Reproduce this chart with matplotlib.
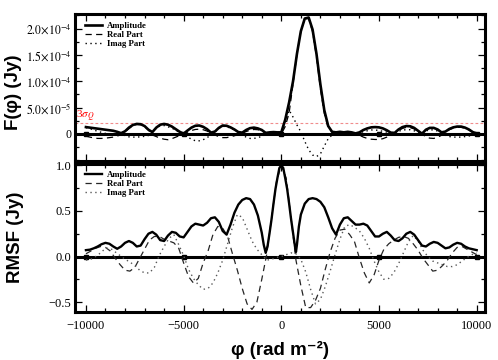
import numpy as np
import matplotlib
matplotlib.use('Agg')
import matplotlib.pyplot as plt
from matplotlib.ticker import FixedLocator, FixedFormatter, MultipleLocator

plt.rcParams['font.family'] = ['Liberation Serif', 'DejaVu Serif']
plt.rcParams['mathtext.fontset'] = 'stix'

# ---- Faraday spectrum (top), units of 1e-5 Jy, phi step 200 ----
phi_top = np.arange(-10000, 10001, 200)
amp_top = [1.3, 1.2, 1.1, 1.0, 0.9, 0.8, 0.7, 0.6, 0.4, 0.15,
           0.5, 1.2, 1.7, 1.9, 1.85, 1.5, 0.8, 0.35, 1.2, 1.75,
           1.9, 1.75, 1.4, 0.9, 0.4, 0.05, 0.65, 1.2, 1.55, 1.6,
           1.35, 0.9, 0.25, 0.45, 1.15, 1.6, 1.55, 1.25, 0.85, 0.35,
           0.25, 0.75, 1.1, 1.2, 1.05, 0.75, 0.2, 0.3, 0.35, 0.3,
           0.3,
           2.7, 6.0, 10.0, 15.2, 19.5, 21.9, 22.1, 19.8, 15.2, 9.4,
           4.5, 1.5, 0.4, 0.3, 0.4, 0.3, 0.4, 0.3, 0.1, 0.3,
           0.75, 1.05, 1.25, 1.3, 1.25, 1.05, 0.7, 0.25, 0.2, 0.85,
           1.3, 1.5, 1.45, 1.15, 0.6, 0.05, 0.8, 1.15, 1.15, 0.85,
           0.3, 0.45, 0.95, 1.25, 1.4, 1.4, 1.2, 0.85, 0.35, 0.1]
real_top = [-0.4, -0.6, -0.75, -0.85, -0.85, -0.8, -0.7, -0.6, -0.4, -0.15,
            0.4, 1.0, 1.55, 1.8, 1.75, 1.4, 0.75, -0.2, -0.5, -0.8,
            -1.0, -1.1, -0.9, -0.6, -0.3, 0.0, 0.35, 0.65, 0.85, 0.9,
            0.8, 0.55, 0.15, -0.2, -0.5, -0.7, -0.7, -0.55, -0.35, -0.1,
            0.15, 0.45, 0.7, 0.85, 0.8, 0.6, 0.15, 0.2, 0.25, 0.1,
            0.0,
            1.4, 4.0, 9.5, 15.1, 19.5, 21.85, 21.9, 19.4, 14.6, 8.6,
            3.9, 1.2, 0.35, 0.2, 0.3, 0.25, 0.3, 0.1, -0.05, -0.25,
            -0.6, -0.85, -1.0, -1.05, -1.05, -0.9, -0.6, -0.2, 0.15, 0.65,
            1.05, 1.25, 1.2, 0.95, 0.5, 0.0, -0.55, -0.8, -0.85, -0.65,
            -0.25, 0.35, 0.8, 1.1, 1.25, 1.25, 1.1, 0.75, 0.3, 0.1]
imag_top = [1.2, 1.0, 0.75, 0.5, 0.3, 0.1, -0.05, -0.1, -0.1, -0.05,
            -0.3, -0.55, -0.6, -0.6, -0.55, -0.45, -0.3, 0.3, 1.1, 1.55,
            1.6, 1.35, 1.1, 0.7, 0.25, 0.05, -0.55, -1.0, -1.3, -1.3,
            -1.1, -0.7, -0.2, 0.4, 1.05, 1.45, 1.4, 1.1, 0.75, 0.35,
            -0.2, -0.6, -0.85, -0.85, -0.7, -0.45, -0.1, 0.2, 0.25, 0.3,
            0.3,
            2.3, 4.5, 3.2, 1.7, 0.4, -1.4, -3.0, -4.0, -4.3, -3.8,
            -2.3, -0.9, -0.2, 0.2, 0.25, -0.15, 0.25, 0.3, 0.1, 0.15,
            0.45, 0.6, 0.75, 0.75, 0.65, 0.5, 0.35, 0.15, 0.1, 0.5,
            0.75, 0.8, 0.8, 0.6, 0.3, 0.0, 0.55, 0.8, 0.75, 0.55,
            0.15, -0.25, -0.5, -0.6, -0.6, -0.6, -0.5, -0.4, -0.2, -0.05]
sigma3 = 2.1e-5

# ---- RMSF (bottom) ----
phi_amp = [-10000, -9800, -9600, -9400, -9200, -9000, -8800, -8600, -8400, -8200,
           -8000, -7800, -7600, -7400, -7200, -7000, -6800, -6600, -6400, -6200,
           -6000, -5800, -5600, -5400, -5200, -5000, -4800, -4600, -4400, -4200,
           -4000, -3800, -3600, -3400, -3200, -3000, -2800, -2600, -2400, -2200,
           -2000, -1800, -1600, -1400, -1200, -1000, -900, -800, -700, -600,
           -500, -400, -300, -200, -100, 0, 100, 200, 300, 400,
           500, 600, 700, 750, 800, 900, 1000, 1200, 1400, 1600,
           1800, 2000, 2200, 2400, 2600, 2800, 3000, 3200, 3400, 3600,
           3800, 4000, 4200, 4400, 4600, 4800, 5000, 5200, 5400, 5600,
           5800, 6000, 6200, 6400, 6600, 6800, 7000, 7200, 7400, 7600,
           7800, 8000, 8200, 8400, 8600, 8800, 9000, 9200, 9400, 9600,
           9800, 10000]
amp_rmsf = [0.07, 0.075, 0.09, 0.11, 0.135, 0.15, 0.14, 0.11, 0.085, 0.11,
            0.15, 0.17, 0.15, 0.11, 0.12, 0.19, 0.25, 0.27, 0.24, 0.18,
            0.17, 0.23, 0.27, 0.26, 0.22, 0.21, 0.27, 0.33, 0.36, 0.35,
            0.34, 0.37, 0.42, 0.43, 0.38, 0.28, 0.24, 0.35, 0.48, 0.57,
            0.62, 0.64, 0.63, 0.57, 0.45, 0.26, 0.13, 0.04, 0.12, 0.26,
            0.41, 0.58, 0.74, 0.86, 0.97, 1.0, 0.97, 0.86, 0.74, 0.58,
            0.41, 0.26, 0.11, 0.05, 0.13, 0.33, 0.46, 0.58, 0.63, 0.64,
            0.63, 0.60, 0.54, 0.43, 0.31, 0.24, 0.35, 0.42, 0.43, 0.39,
            0.35, 0.35, 0.36, 0.34, 0.28, 0.22, 0.22, 0.25, 0.27, 0.23,
            0.18, 0.17, 0.20, 0.25, 0.27, 0.24, 0.18, 0.12, 0.11, 0.14,
            0.16, 0.15, 0.12, 0.09, 0.10, 0.13, 0.15, 0.14, 0.11, 0.09,
            0.08, 0.07]
phi_parts = np.arange(-10000, 10001, 250)
real_rmsf = [0.03, 0.06, 0.09, 0.11, 0.10, 0.06, -0.02, -0.09, -0.15, -0.16,
             -0.12, -0.02, 0.08, 0.18, 0.22, 0.22, 0.19, 0.17, 0.15, 0.09,
             -0.07, -0.22, -0.29, -0.24, -0.07, 0.06, 0.24, 0.33, 0.31, 0.22,
             0.03, -0.15, -0.35, -0.52, -0.58, -0.50, -0.25, 0.02, 0.42, 0.82,
             1.00,
             0.86, 0.42, -0.04, -0.32, -0.56, -0.56, -0.48, -0.35, -0.14, 0.05,
             0.20, 0.29, 0.30, 0.24, 0.16, -0.02, -0.18, -0.29, -0.20, -0.04,
             0.08, 0.14, 0.18, 0.21, 0.22, 0.20, 0.14, 0.07, -0.02, -0.09,
             -0.16, -0.15, -0.10, -0.04, 0.04, 0.10, 0.11, 0.08, 0.05, 0.02]
imag_rmsf = [-0.04, -0.03, 0.00, 0.04, 0.09, 0.09, 0.05, 0.01, -0.03, -0.06,
             -0.10, -0.15, -0.18, -0.18, -0.12, 0.01, 0.11, 0.20, 0.24, 0.13,
             0.01, -0.14, -0.24, -0.31, -0.36, -0.35, -0.29, -0.18, -0.04, 0.14,
             0.32, 0.46, 0.43, 0.30, 0.17, 0.08, 0.02, -0.04, -0.03, -0.01,
             0.00,
             0.02, 0.04, 0.03, -0.03, -0.17, -0.36, -0.52, -0.47, -0.33, -0.16,
             0.02, 0.19, 0.33, 0.35, 0.32, 0.28, 0.20, 0.09, -0.05, -0.17,
             -0.25, -0.24, -0.18, -0.08, 0.04, 0.16, 0.23, 0.17, 0.07, 0.00,
             -0.05, -0.07, -0.09, -0.11, -0.11, -0.09, -0.05, -0.01, 0.02, 0.04]
zero_marks = [-10000, -5000, 0, 5000, 10000]

fig = plt.figure(figsize=(4.98, 3.6), dpi=100)
ax1 = fig.add_axes([0.1506, 0.5533, 0.8223, 0.4069])
ax2 = fig.add_axes([0.1506, 0.1347, 0.8223, 0.4111])

amp_t = np.array(amp_top) * 1e-5
real_t = np.array(real_top) * 1e-5
imag_t = np.array(imag_top) * 1e-5

ax1.axhline(sigma3, color='#f08c8c', lw=0.8, dashes=(2.5, 2))
ax1.axhline(0, color='k', lw=2.2)
ax1.plot(zero_marks, [0] * len(zero_marks), 'ks', ms=2.5)
ax1.plot(phi_top, real_t, color='k', lw=0.9, dashes=(5, 3.5), label='Real Part')
ax1.plot(phi_top, imag_t, color='k', lw=1.0, dashes=(1, 2.5), label='Imag Part')
ax1.plot(phi_top, amp_t, color='k', lw=1.9, label='Amplitude')
ax1.text(-10520, 1.85e-5, r'3$\sigma_Q$', color='red', fontsize=8, va='bottom')

ax2.axhline(0, color='k', lw=2.2)
ax2.plot(zero_marks, [0] * len(zero_marks), 'ks', ms=2.5)
ax2.plot(phi_parts, real_rmsf, color='0.15', lw=0.9, dashes=(5, 3.5), label='Real Part')
ax2.plot(phi_parts, imag_rmsf, color='0.35', lw=1.0, dashes=(1, 2.5), label='Imag Part')
ax2.plot(phi_amp, amp_rmsf, color='k', lw=1.7, label='Amplitude')

for ax in (ax1, ax2):
    ax.set_xlim(-10560, 10400)
    ax.xaxis.set_major_locator(MultipleLocator(5000))
    ax.xaxis.set_minor_locator(MultipleLocator(1000))
    ax.tick_params(which='both', direction='in', top=True, right=True,
                   labelsize=9, width=0.9, pad=2.5)
    ax.tick_params(which='major', length=5)
    ax.tick_params(which='minor', length=3)
    for s in ax.spines.values():
        s.set_linewidth(2.2)
    h, l = ax.get_legend_handles_labels()
    order = [2, 0, 1]
    ax.legend([h[i] for i in order], [l[i] for i in order], loc='upper left',
              bbox_to_anchor=(0.015, 0.975), frameon=False, borderaxespad=0,
              prop={'family': 'Liberation Serif', 'weight': 'bold', 'size': 6.3},
              handlelength=2.0, handletextpad=0.6, labelspacing=0.1)

ax1.set_ylim(-5.1e-5, 2.27e-4)
ax1.yaxis.set_major_locator(FixedLocator([0, 5e-5, 1e-4, 1.5e-4, 2e-4]))
ax1.yaxis.set_major_formatter(FixedFormatter(
    ['0', r'$5.0{\times}10^{-5}$', r'$1.0{\times}10^{-4}$',
     r'$1.5{\times}10^{-4}$', r'$2.0{\times}10^{-4}$']))
ax1.yaxis.set_minor_locator(MultipleLocator(2.5e-5))
ax1.tick_params(axis='x', labelbottom=False)
ax1.tick_params(axis='y', labelsize=8.5)

ax2.set_ylim(-0.603, 1.02)
ax2.yaxis.set_major_locator(FixedLocator([-0.5, 0, 0.5, 1.0]))
ax2.yaxis.set_major_formatter(FixedFormatter(['\u22120.5', '0.0', '0.5', '1.0']))
ax2.yaxis.set_minor_locator(MultipleLocator(0.25))
ax2.xaxis.set_major_locator(FixedLocator([-10000, -5000, 0, 5000, 10000]))
ax2.xaxis.set_major_formatter(FixedFormatter(['\u221210000', '\u22125000', '0', '5000', '10000']))
ax2.tick_params(axis='x', pad=6)

lab = {'family': ['Liberation Sans', 'DejaVu Sans'], 'weight': 'bold', 'size': 13.5}
fig.text(13 / 498, 1 - 92 / 360, 'F(\u03c6) (Jy)', rotation=90, ha='center', va='center', **lab)
fig.text(15 / 498, 1 - 237 / 360, 'RMSF (Jy)', rotation=90, ha='center', va='center', **lab)
fig.text(280 / 498, 1 - 350 / 360, '\u03c6 (rad m\u207b\u00b2)', ha='center', va='center', **lab)

fig.savefig('out.png', dpi=100)
